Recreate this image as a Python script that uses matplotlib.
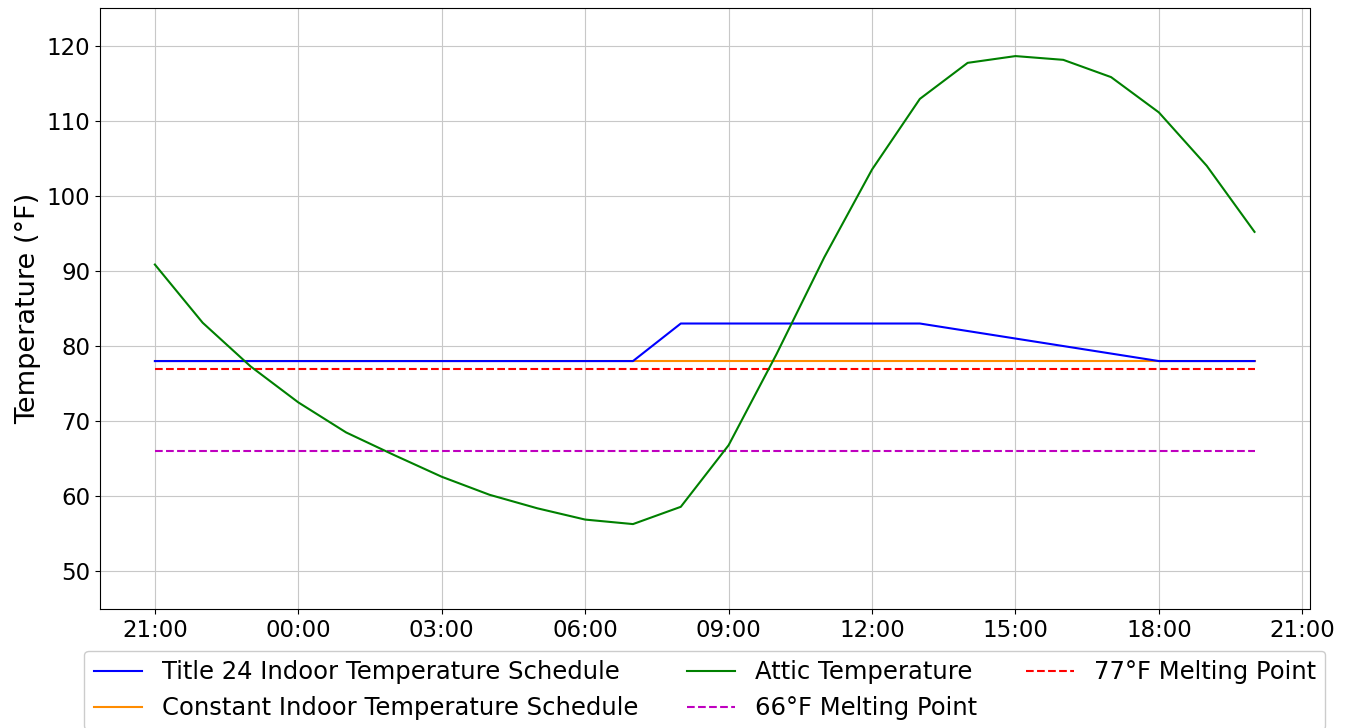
import pandas as pd
import matplotlib.pyplot as plt
import matplotlib.dates as mdates

times = pd.date_range('2023-01-01 21:00', periods=24, freq='h')

title24 = [78, 78, 78, 78, 78, 78, 78, 78, 78, 78, 78, 83, 83, 83, 83, 83, 83,
           82, 81, 80, 79, 78, 78, 78]
constant = [78] * 24
attic = [90.85, 83.1, 77.3, 72.5, 68.5, 65.5, 62.6, 60.2, 58.4, 56.9, 56.3, 58.6,
         66.8, 78.9, 91.8, 103.5, 112.9, 117.7, 118.6, 118.1, 115.8, 111.1, 104.0, 95.2]
melt77 = [77] * 24
melt66 = [66] * 24

fig, ax = plt.subplots(figsize=(13.5, 7.28), dpi=100)
fig.subplots_adjust(left=0.074, right=0.970, top=0.989, bottom=0.1635)

ax.plot(times, title24, color='b', label='Title 24 Indoor Temperature Schedule', zorder=3)
ax.plot(times, constant, color='darkorange', label='Constant Indoor Temperature Schedule',
        zorder=2)
ax.plot(times, attic, color='green', label='Attic Temperature', zorder=3)
ax.plot(times, melt66, color='m', linestyle='--', label='66°F Melting Point', zorder=2)
ax.plot(times, melt77, color='r', linestyle='--', label='77°F Melting Point', zorder=2)

ax.set_ylim(45, 125)
ax.set_ylabel('Temperature (°F)', fontsize=19.5)
ax.xaxis.set_major_locator(mdates.HourLocator(byhour=range(0, 24, 3)))
ax.xaxis.set_major_formatter(mdates.DateFormatter('%H:%M'))
ax.tick_params(labelsize=16.5)
ax.grid(True, color='#c8c8c8')

ax.legend(loc='upper center', bbox_to_anchor=(0.5, -0.049), ncol=3, fontsize=17.5,
          framealpha=1)

fig.savefig('out.png')
